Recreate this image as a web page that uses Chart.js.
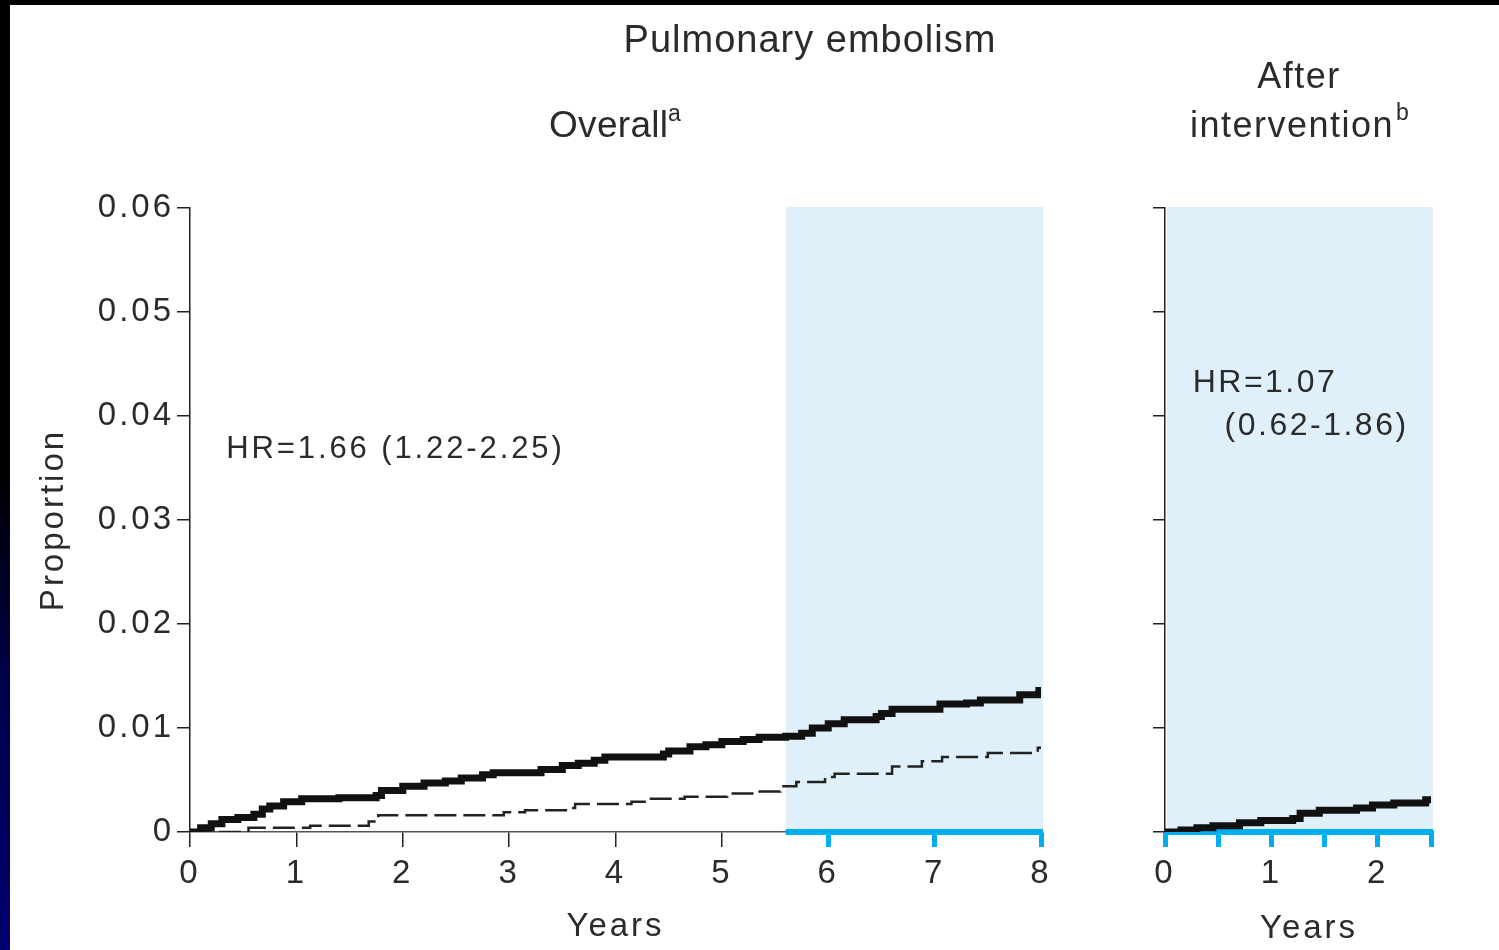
<!DOCTYPE html>
<html lang="en">
<head>
<meta charset="UTF-8">
<title>Pulmonary embolism</title>
<script src="https://cdn.jsdelivr.net/npm/chart.js"></script>
<style>
  html, body { margin: 0; padding: 0; background: #000; }
  #page { position: relative; width: 1499px; height: 950px; overflow: hidden; background: #000; }
  #paper { position: absolute; left: 10px; top: 5px; right: 0; bottom: 0; background: #fff; }
  #edge { position: absolute; left: 0; top: 470px; width: 10px; height: 480px;
          background: linear-gradient(#000, #00004a 45%, #000070); }
  #overall { position: absolute; left: 0; top: 0; }
  #after { position: absolute; left: 1100px; top: 0; }
</style>
</head>
<body>
<div id="page">
  <div id="paper"></div>
  <div id="edge"></div>
  <canvas id="overall" width="1100" height="950"></canvas>
  <canvas id="after" width="399" height="950"></canvas>
</div>

<script>
// cumulative proportion with PE, whole follow-up (solid = exposed, dashed = reference)
const exposedYears = [0, 0.1, 0.2, 0.3, 0.45, 0.6, 0.68, 0.75, 0.88, 1.05, 1.4, 1.75, 1.8, 2.0, 2.2, 2.4, 2.55, 2.75, 2.85,
                      3.3, 3.5, 3.65, 3.8, 3.9, 4.45, 4.5, 4.7, 4.85, 5.0, 5.2, 5.35, 5.6, 5.75, 5.85, 6.0, 6.15,
                      6.45, 6.5, 6.6, 7.05, 7.3, 7.43, 7.8, 7.98, 8.0];
const exposedPE    = [0, 0.0004, 0.0008, 0.0012, 0.0014, 0.0017, 0.0022, 0.0025, 0.0029, 0.0032, 0.0033, 0.0035, 0.004,
                      0.0044, 0.0047, 0.0049, 0.0052, 0.0055, 0.0057, 0.006, 0.0064, 0.0066, 0.0069, 0.0072, 0.0075,
                      0.0078, 0.0082, 0.0084, 0.0087, 0.0089, 0.0091, 0.0092, 0.0095, 0.01, 0.0104, 0.0108, 0.0111,
                      0.0114, 0.0118, 0.0123, 0.0124, 0.0127, 0.0132, 0.0136, 0.0138];
const referenceYears = [0, 0.55, 1.13, 1.68, 1.77, 2.95, 3.15, 3.55, 3.62, 4.15, 4.3, 4.65, 5.05, 5.3, 5.55, 5.7,
                        5.97, 6.06, 6.6, 6.88, 7.07, 7.5, 7.97, 8.0];
const referencePE    = [0, 0.0004, 0.0006, 0.001, 0.0016, 0.0019, 0.0021, 0.0023, 0.0027, 0.0029, 0.0032, 0.0034,
                        0.0037, 0.0039, 0.0044, 0.0048, 0.0053, 0.0056, 0.0063, 0.0068, 0.0072, 0.0076, 0.0081, 0.0082];

// after the intervention
const afterYears = [0, 0.15, 0.3, 0.45, 0.7, 0.9, 1.2, 1.27, 1.45, 1.8, 1.95, 2.15, 2.45, 2.5];
const afterPE    = [0, 0.0002, 0.0004, 0.0006, 0.0009, 0.0011, 0.0013, 0.0018, 0.0021, 0.0023, 0.0026, 0.0028, 0.0031, 0.0034];

const yTicks = [0, 0.01, 0.02, 0.03, 0.04, 0.05, 0.06];
const overallWindow = [5.6, 8];   // period also covered by the right panel
const afterWindow = [0, 2.5];

const BLUE = '#00aeef';
const SHADE = '#dff0fa';
const INK = '#2b2b2b';
const FAMILY = "'Liberation Sans', Arial, sans-serif";

const pts = (xs, ys) => xs.map((x, i) => ({ x, y: ys[i] }));

function say(ctx, s, x, y, size, spacing, align) {
  ctx.save();
  ctx.font = size + 'px ' + FAMILY;
  ctx.letterSpacing = spacing + 'px';
  ctx.fillStyle = INK;
  ctx.textAlign = align || 'left';
  ctx.textBaseline = 'alphabetic';
  ctx.fillText(s, x, y);
  ctx.restore();
}

// light blue follow-up window behind the curves, and the blue stretch of axis under it
const windowPlugin = {
  id: 'window',
  beforeDraw(chart, args, opts) {
    const { ctx, scales: { x, y } } = chart;
    ctx.letterSpacing = '3px';
    const l = x.getPixelForValue(opts.from) + opts.inset;
    const r = x.getPixelForValue(opts.to) + 2;
    const t = y.getPixelForValue(0.06) - 1;
    const b = y.getPixelForValue(0);
    ctx.save();
    ctx.fillStyle = SHADE;
    ctx.fillRect(l, t, r - l, b - t);
    ctx.restore();
  },
  beforeDatasetsDraw(chart, args, opts) {
    const { ctx, scales: { x, y } } = chart;
    const l = x.getPixelForValue(opts.from);
    const r = x.getPixelForValue(opts.to) + 2;
    const b = y.getPixelForValue(0);
    ctx.save();
    ctx.fillStyle = BLUE;
    ctx.fillRect(l, b - 3, r - l, 6);
    ctx.restore();
  },
  afterDraw(chart, args, opts) {
    if (opts.labels) opts.labels(chart);
  }
};

function axisFont() { return { family: FAMILY, size: 33 }; }

function curve(xs, ys, dashed) {
  return {
    data: pts(xs, ys),
    borderColor: dashed ? '#222' : '#111',
    borderWidth: dashed ? 2.5 : 7,
    borderDash: dashed ? [22, 7] : [],
    borderJoinStyle: 'miter',
    borderCapStyle: 'butt',
    stepped: true,
    pointRadius: 0,
    fill: false
  };
}

const common = {
  responsive: false,
  animation: false,
  plugins: { legend: { display: false }, tooltip: { enabled: false } }
};

new Chart(document.getElementById('overall'), {
  type: 'line',
  data: { datasets: [curve(exposedYears, exposedPE, false), curve(referenceYears, referencePE, true)] },
  options: {
    ...common,
    layout: { padding: { left: 0, top: 208, right: 59, bottom: 0 } },
    scales: {
      x: {
        type: 'linear', min: 0, max: 8,
        ticks: { stepSize: 1, font: axisFont(), color: INK, padding: 7, maxRotation: 0 },
        grid: {
          drawOnChartArea: false, tickLength: 15,
          color: c => (c.tick && c.tick.value >= 6 ? BLUE : '#222'),
          lineWidth: c => (c.tick && c.tick.value >= 6 ? 5 : 1.5)
        },
        border: { color: '#555', width: 1.5 },
        title: { display: true, text: 'Years', font: axisFont(), color: INK, padding: { top: 0, bottom: 3 } },
        afterFit: s => { s.height = 118; }
      },
      y: {
        type: 'linear', min: 0, max: 0.06,
        afterBuildTicks: s => { s.ticks = yTicks.map(v => ({ value: v })); },
        ticks: { callback: v => (v === 0 ? '0' : v.toFixed(2)), font: axisFont(), color: INK, padding: 3 },
        grid: { drawOnChartArea: false, tickLength: 13, color: '#222', lineWidth: 1.5 },
        border: { color: '#222', width: 1.5 },
        title: { display: true, text: 'Proportion', font: axisFont(), color: INK, padding: { top: 34, bottom: 0 } },
        afterFit: s => { s.width = 190; }
      }
    },
    plugins: {
      ...common.plugins,
      window: {
        from: overallWindow[0], to: overallWindow[1], inset: 0,
        labels: chart => {
          const { ctx, scales: { x, y } } = chart;
          say(ctx, 'Pulmonary embolism', 810, 52, 38, 1, 'center');
          say(ctx, 'Overall', 549, 137, 37, 0.3);
          say(ctx, 'a', 668, 121, 23, 0);
          say(ctx, 'HR=1.66 (1.22-2.25)', x.getPixelForValue(0.34), y.getPixelForValue(0.036), 31, 2.9);
        }
      }
    }
  },
  plugins: [windowPlugin]
});

new Chart(document.getElementById('after'), {
  type: 'line',
  data: { datasets: [curve(afterYears, afterPE, false)] },
  options: {
    ...common,
    layout: { padding: { left: 0, top: 208, right: 68, bottom: 0 } },
    scales: {
      x: {
        type: 'linear', min: 0, max: 2.5,
        ticks: { stepSize: 0.5, callback: v => (Number.isInteger(v) ? String(v) : ''),
                 font: axisFont(), color: INK, padding: 7, maxRotation: 0, autoSkip: false },
        grid: { drawOnChartArea: false, tickLength: 15, color: BLUE, lineWidth: 5 },
        border: { color: '#555', width: 1.5 },
        afterFit: s => { s.height = 118; }
      },
      y: {
        type: 'linear', min: 0, max: 0.06,
        afterBuildTicks: s => { s.ticks = yTicks.map(v => ({ value: v })); },
        ticks: { callback: () => '', font: axisFont() },
        grid: { drawOnChartArea: false, tickLength: 12, color: '#222', lineWidth: 1.5 },
        border: { color: '#222', width: 1.5 },
        afterFit: s => { s.width = 65; }
      }
    },
    plugins: {
      ...common.plugins,
      window: {
        from: afterWindow[0], to: afterWindow[1], inset: 2,
        labels: chart => {
          const { ctx, scales: { x, y } } = chart;
          say(ctx, 'After', 199, 88, 36, 1.5, 'center');
          say(ctx, 'intervention', 90, 137, 36, 1.5);
          say(ctx, 'b', 296, 120, 23, 0);
          say(ctx, 'HR=1.07', x.getPixelForValue(0.26), y.getPixelForValue(0.0423), 32, 2.5);
          say(ctx, '(0.62-1.86)', x.getPixelForValue(0.56), y.getPixelForValue(0.0382), 32, 2.5);
          say(ctx, 'Years', 209, 938, 33, 3, 'center');
        }
      }
    }
  },
  plugins: [windowPlugin]
});
</script>
</body>
</html>
